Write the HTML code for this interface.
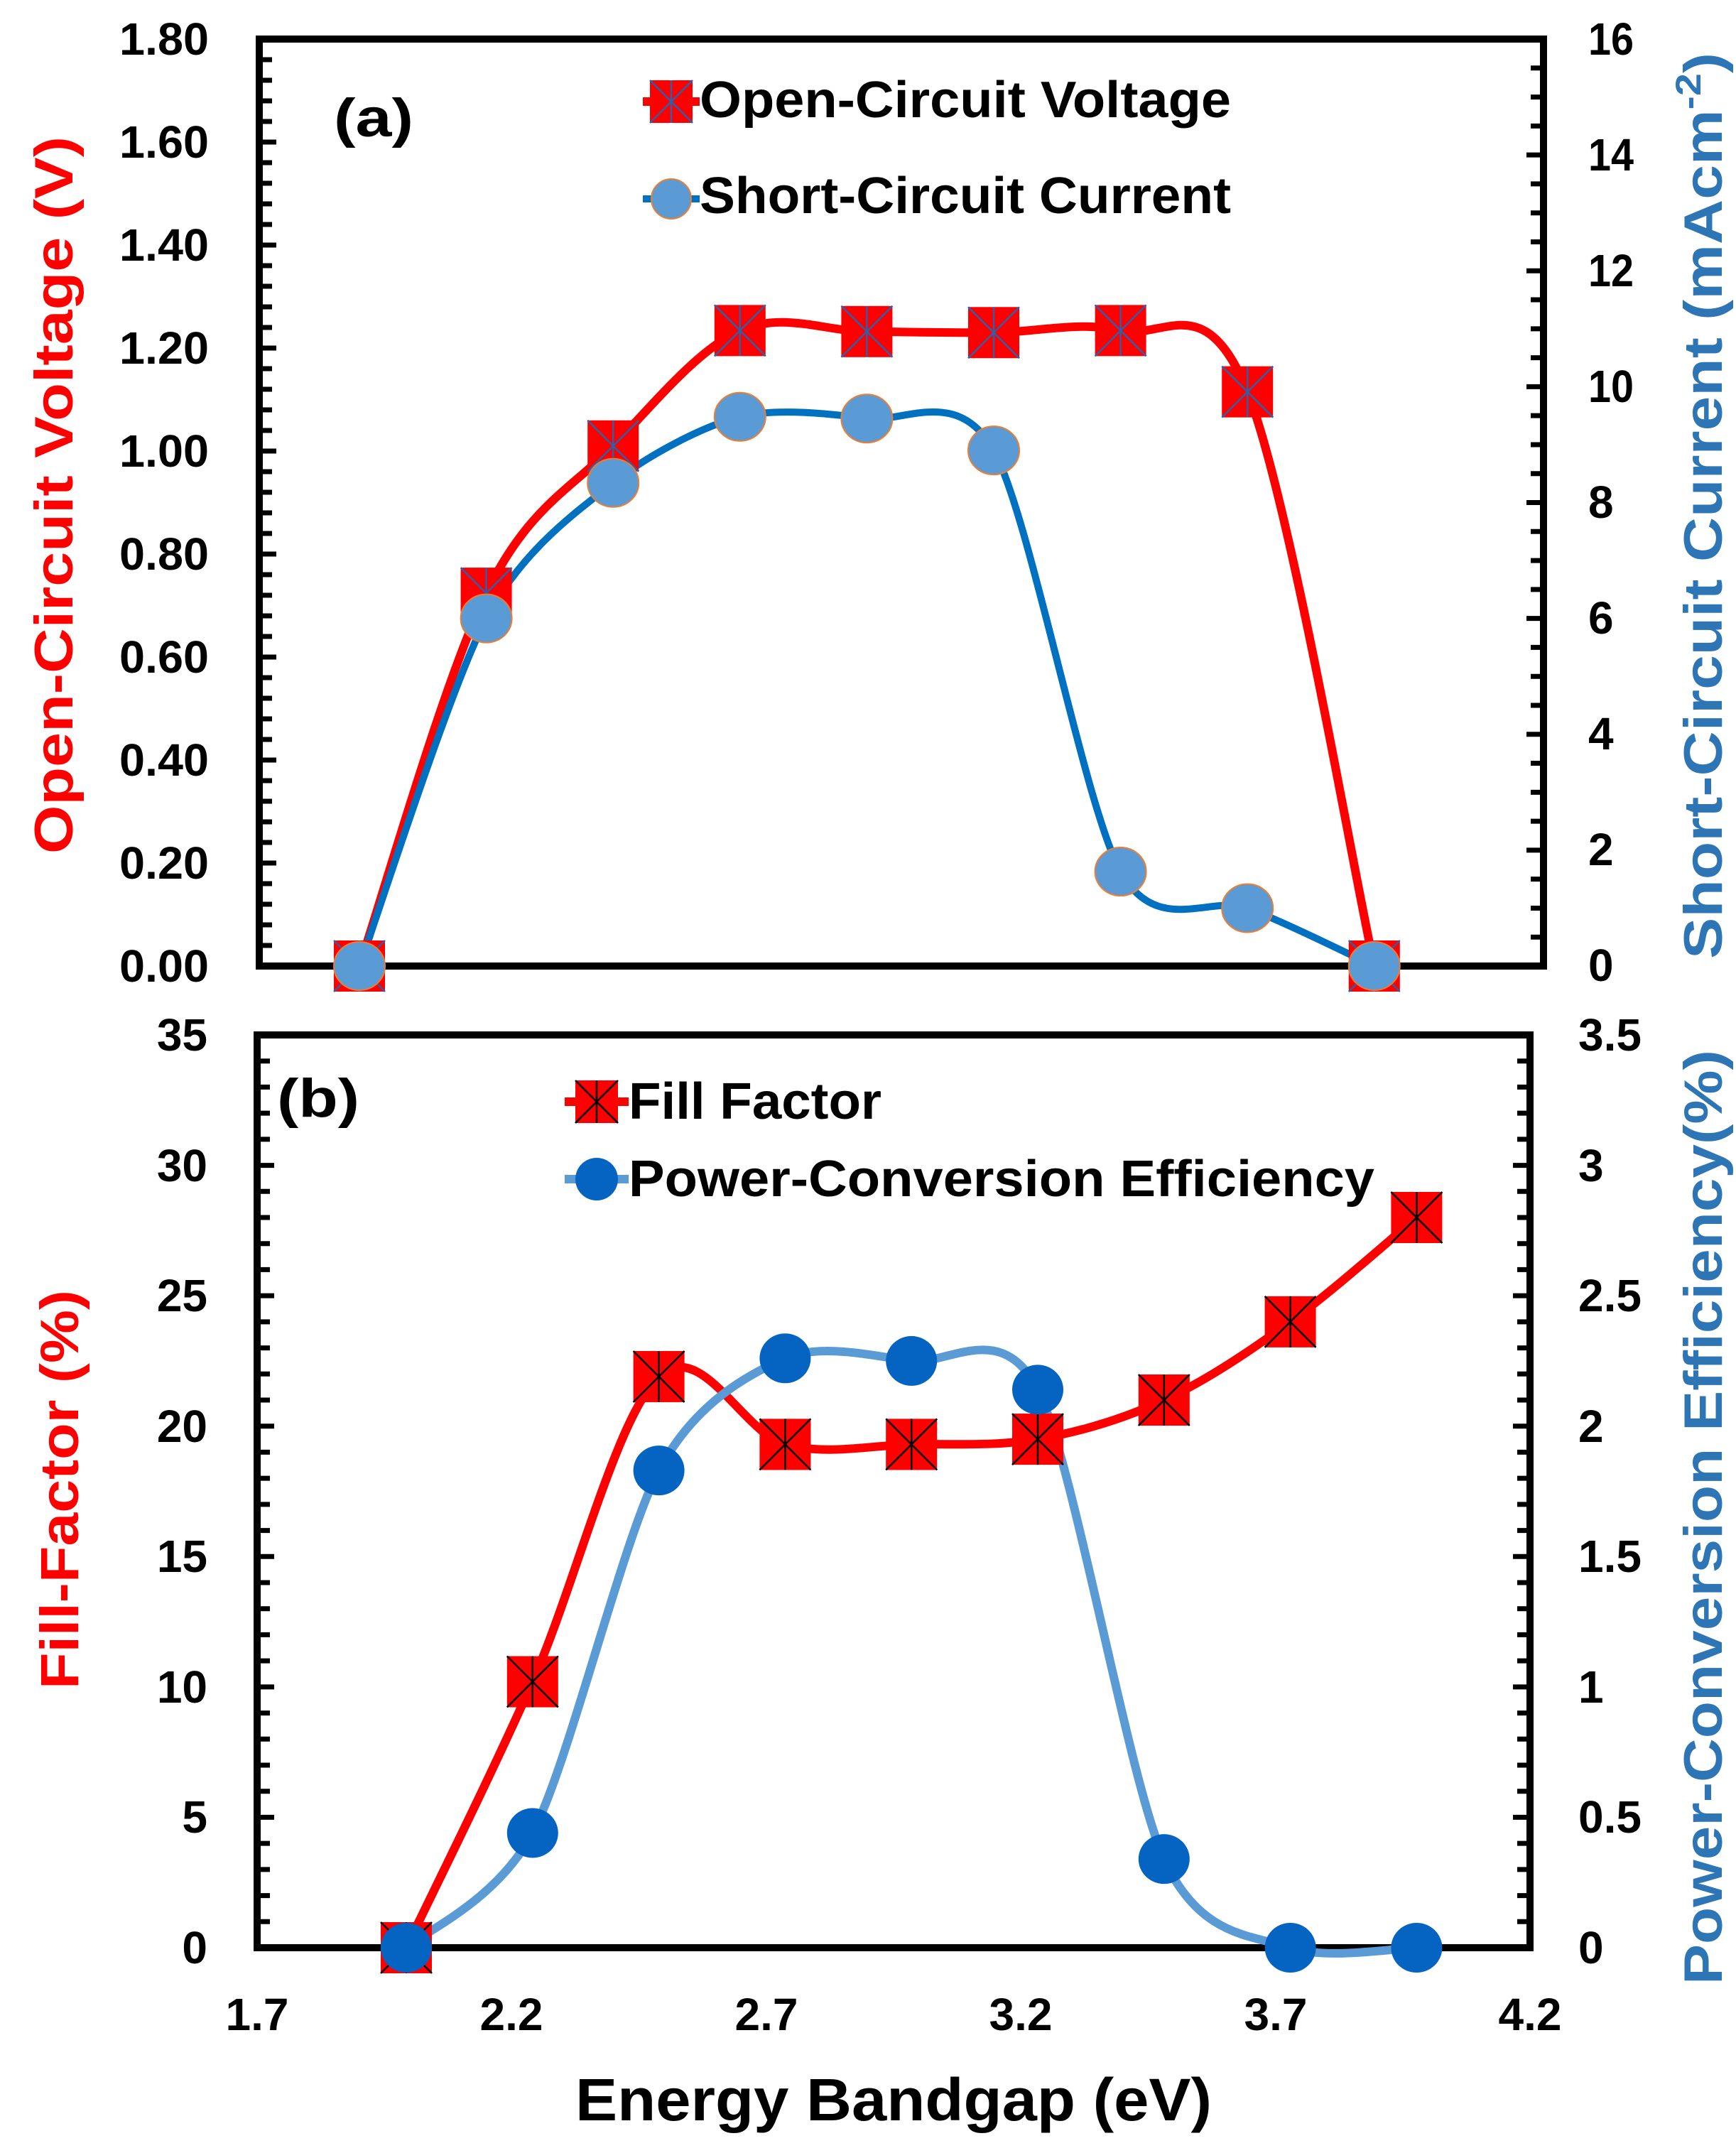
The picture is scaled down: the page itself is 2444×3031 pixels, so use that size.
<!DOCTYPE html>
<html><head><meta charset="utf-8"><style>
html,body{margin:0;padding:0;background:#fff;}
svg{display:block;}
text{font-family:"Liberation Sans",sans-serif;font-weight:bold;}
</style></head><body>
<svg id="s" width="2444" height="3031" viewBox="0 0 2444 3031" xmlns="http://www.w3.org/2000/svg">
<rect width="2444" height="3031" fill="#fff"/>
<g id="g"></g>
<g font-size="64" fill="#000" text-anchor="end">
<text x="294" y="77" textLength="126" lengthAdjust="spacingAndGlyphs">1.80</text>
<text x="294" y="222" textLength="126" lengthAdjust="spacingAndGlyphs">1.60</text>
<text x="294" y="367" textLength="126" lengthAdjust="spacingAndGlyphs">1.40</text>
<text x="294" y="512" textLength="126" lengthAdjust="spacingAndGlyphs">1.20</text>
<text x="294" y="657" textLength="126" lengthAdjust="spacingAndGlyphs">1.00</text>
<text x="294" y="802" textLength="126" lengthAdjust="spacingAndGlyphs">0.80</text>
<text x="294" y="947" textLength="126" lengthAdjust="spacingAndGlyphs">0.60</text>
<text x="294" y="1092" textLength="126" lengthAdjust="spacingAndGlyphs">0.40</text>
<text x="294" y="1237" textLength="126" lengthAdjust="spacingAndGlyphs">0.20</text>
<text x="294" y="1382" textLength="126" lengthAdjust="spacingAndGlyphs">0.00</text>
</g>
<g font-size="64" fill="#000" text-anchor="start">
<text x="2236" y="77" textLength="64" lengthAdjust="spacingAndGlyphs">16</text>
<text x="2236" y="240" textLength="64" lengthAdjust="spacingAndGlyphs">14</text>
<text x="2236" y="403" textLength="64" lengthAdjust="spacingAndGlyphs">12</text>
<text x="2236" y="566" textLength="64" lengthAdjust="spacingAndGlyphs">10</text>
<text x="2236" y="729">8</text>
<text x="2236" y="892">6</text>
<text x="2236" y="1055">4</text>
<text x="2236" y="1218">2</text>
<text x="2236" y="1381">0</text>
</g>
<text x="470" y="192" font-size="76" textLength="112" lengthAdjust="spacingAndGlyphs">(a)</text>
<text x="985" y="165" font-size="72" textLength="748" lengthAdjust="spacingAndGlyphs">Open-Circuit Voltage</text>
<text x="985" y="300" font-size="72" textLength="748" lengthAdjust="spacingAndGlyphs">Short-Circuit Current</text>
<text transform="translate(102,697) rotate(-90)" text-anchor="middle" font-size="76" fill="#ff0000" textLength="1010" lengthAdjust="spacingAndGlyphs">Open-Circuit Voltage (V)</text>
<text transform="translate(2424,712) rotate(-90)" text-anchor="middle" font-size="76" fill="#2e75b6" textLength="1276" lengthAdjust="spacingAndGlyphs">Short-Circuit Current (mAcm<tspan font-size="50" dy="-30">-2</tspan><tspan dy="30">)</tspan></text>
<g font-size="64" fill="#000" text-anchor="end">
<text x="292" y="1479">35</text>
<text x="292" y="1663">30</text>
<text x="292" y="1846">25</text>
<text x="292" y="2030">20</text>
<text x="292" y="2213">15</text>
<text x="292" y="2397">10</text>
<text x="292" y="2580">5</text>
<text x="292" y="2764">0</text>
</g>
<g font-size="64" fill="#000" text-anchor="start">
<text x="2222" y="1479">3.5</text>
<text x="2222" y="1663">3</text>
<text x="2222" y="1846">2.5</text>
<text x="2222" y="2030">2</text>
<text x="2222" y="2213">1.5</text>
<text x="2222" y="2397">1</text>
<text x="2222" y="2580">0.5</text>
<text x="2222" y="2764">0</text>
</g>
<g font-size="64" fill="#000" text-anchor="middle">
<text x="362" y="2858">1.7</text>
<text x="720" y="2858">2.2</text>
<text x="1079" y="2858">2.7</text>
<text x="1437" y="2858">3.2</text>
<text x="1796" y="2858">3.7</text>
<text x="2154" y="2858">4.2</text>
</g>
<text x="390" y="1572" font-size="76" textLength="116" lengthAdjust="spacingAndGlyphs">(b)</text>
<text x="885" y="1575" font-size="72" textLength="356" lengthAdjust="spacingAndGlyphs">Fill Factor</text>
<text x="885" y="1684" font-size="72" textLength="1050" lengthAdjust="spacingAndGlyphs">Power-Conversion Efficiency</text>
<text x="1258" y="2985" font-size="84" text-anchor="middle" textLength="896" lengthAdjust="spacingAndGlyphs">Energy Bandgap (eV)</text>
<text transform="translate(110,2097) rotate(-90)" text-anchor="middle" font-size="76" fill="#ff0000" textLength="562" lengthAdjust="spacingAndGlyphs">Fill-Factor (%)</text>
<text transform="translate(2424,2136) rotate(-90)" text-anchor="middle" font-size="76" fill="#2e75b6" textLength="1316" lengthAdjust="spacingAndGlyphs">Power-Conversion Efficiency(%)</text>
</svg>
<script>
var NS="http://www.w3.org/2000/svg",g=document.getElementById('g');
function el(t,a){var e=document.createElementNS(NS,t);for(var k in a)e.setAttribute(k,a[k]);g.appendChild(e);return e;}
function smooth(p,k){var d="M"+p[0][0]+","+p[0][1];for(var i=0;i<p.length-1;i++){var p0=p[i-1]||p[i],p1=p[i],p2=p[i+1],p3=p[i+2]||p2;
var c1=[p1[0]+(p2[0]-p0[0])/k,p1[1]+(p2[1]-p0[1])/k],c2=[p2[0]-(p3[0]-p1[0])/k,p2[1]-(p3[1]-p1[1])/k];
d+=" C"+c1+" "+c2+" "+p2;}return d;}
function sq(x,y,s,edge){el('rect',{x:x-s/2,y:y-s/2,width:s,height:s,fill:'#ff0000'});
el('path',{d:"M"+(x-s/2)+","+(y-s/2)+"L"+(x+s/2)+","+(y+s/2)+"M"+(x+s/2)+","+(y-s/2)+"L"+(x-s/2)+","+(y+s/2)+"M"+x+","+(y-s/2)+"L"+x+","+(y+s/2),stroke:edge,'stroke-width':2.5,fill:'none'});}
function ticks(x,y0,y1,n,dir,maj){for(var i=0;i<=n;i++){var y=y0+(y1-y0)*i/n;var L=(i%maj==0)?24:18;el('line',{x1:x,y1:y,x2:x+dir*L,y2:y,stroke:'#000','stroke-width':7});}}
var L=365,R=2173,T=55,B=1360;
ticks(L,T,B,45,1,5);ticks(R,T,B,32,-1,4);
el('rect',{x:L,y:T,width:R-L,height:B-T,fill:'none',stroke:'#000','stroke-width':10});
var xs=[],i;for(i=0;i<9;i++)xs.push(506+i*178.6);
var voc=[0,0.724,1.01,1.234,1.232,1.23,1.234,1.115,0],jsc=[0,6.0,8.34,9.48,9.45,8.9,1.63,1.0,0];
var pv=xs.map(function(x,i){return [x,B-voc[i]/1.8*(B-T)]}),pj=xs.map(function(x,i){return [x,B-jsc[i]/16*(B-T)]});
el('path',{d:smooth(pv,6),stroke:'#ff0000','stroke-width':12,fill:'none'});
el('path',{d:smooth(pj,7),stroke:'#0070c0','stroke-width':10,fill:'none'});
pv.forEach(function(p){sq(p[0],p[1],72,'#2e5fa8');});
pj.forEach(function(p){el('ellipse',{cx:p[0],cy:p[1],rx:36,ry:34,fill:'#5b9bd5',stroke:'#ed7d31','stroke-width':2});});
el('line',{x1:905,y1:143,x2:985,y2:143,stroke:'#ff0000','stroke-width':12});sq(945,143,60,'#2e5fa8');
el('line',{x1:905,y1:280,x2:985,y2:280,stroke:'#0070c0','stroke-width':10});el('ellipse',{cx:945,cy:280,rx:28,ry:28,fill:'#5b9bd5',stroke:'#ed7d31','stroke-width':2});
L=362;R=2154;T=1457;B=2742;
ticks(L,T,B,35,1,5);ticks(R,T,B,35,-1,5);
el('rect',{x:L,y:T,width:R-L,height:B-T,fill:'none',stroke:'#000','stroke-width':10});
xs=[];for(i=0;i<9;i++)xs.push(572+i*177.8);
var ff=[0,10.2,21.9,19.3,19.3,19.5,21.0,24.0,28.0],pce=[0,0.44,1.83,2.26,2.25,2.14,0.34,0,0];
var pf=xs.map(function(x,i){return [x,B-ff[i]/35*(B-T)]}),pp=xs.map(function(x,i){return [x,B-pce[i]/3.5*(B-T)]});
el('path',{d:smooth(pf,6),stroke:'#ff0000','stroke-width':12,fill:'none'});
el('path',{d:smooth(pp,7),stroke:'#5b9bd5','stroke-width':12,fill:'none'});
pf.forEach(function(p){sq(p[0],p[1],72,'#000');});
pp.forEach(function(p){el('ellipse',{cx:p[0],cy:p[1],rx:36,ry:35,fill:'#0563c1'});});
el('line',{x1:795,y1:1551,x2:885,y2:1551,stroke:'#ff0000','stroke-width':12});sq(840,1551,60,'#000');
el('line',{x1:795,y1:1660,x2:885,y2:1660,stroke:'#5b9bd5','stroke-width':12});el('ellipse',{cx:840,cy:1660,rx:30,ry:30,fill:'#0563c1'});
</script>
</body></html>
